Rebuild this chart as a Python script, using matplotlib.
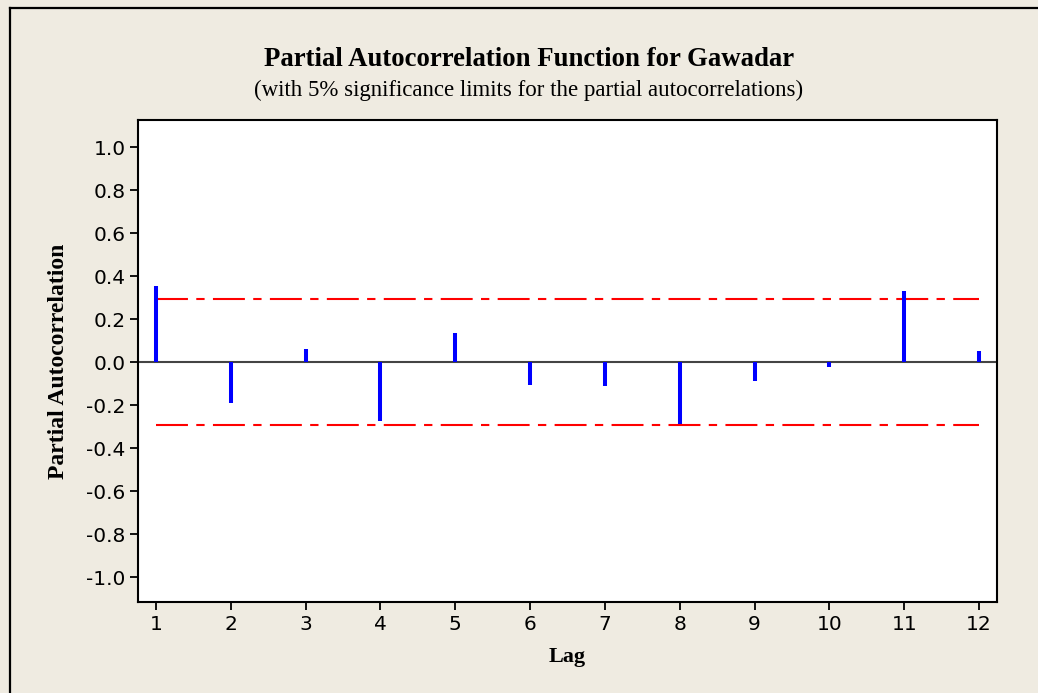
import numpy as np
import matplotlib.pyplot as plt
from matplotlib.lines import Line2D

lags = [1, 2, 3, 4, 5, 6, 7, 8, 9, 10, 11, 12]
pacf = [0.353, -0.19, 0.06, -0.274, 0.136, -0.107, -0.11, -0.29, -0.09, -0.022, 0.329, 0.053]
limit = 0.294
yticks = [-1.0, -0.8, -0.6, -0.4, -0.2, 0.0, 0.2, 0.4, 0.6, 0.8, 1.0]

plt.rcParams['lines.scale_dashes'] = False
bg = '#EFEBE1'

fig = plt.figure(figsize=(10.38, 6.93), dpi=100, facecolor=bg)
ax = fig.add_axes([138/1038, 1 - 602/693, (997 - 138)/1038, (602 - 120)/693])
ax.set_facecolor('white')

# zero line, stems, significance limits
ax.axhline(0, color='#444444', lw=1.5, zorder=1)
ax.vlines(lags, 0, pacf, colors='#0000FF', lw=2.9, zorder=3)
dash = (0, (23, 6, 6, 6))
ax.plot([lags[0], lags[-1]], [limit, limit], color='#FF0000', lw=1.5, linestyle=dash, zorder=2)
ax.plot([lags[0], lags[-1]], [-limit, -limit], color='#FF0000', lw=1.5, linestyle=dash, zorder=2)

ax.set_xlim(0.76, 12.24)
ax.set_ylim(-1.116, 1.126)
ax.set_xticks(lags)
ax.set_yticks(yticks)
ax.set_yticklabels([f'{v:.1f}' for v in yticks])
ax.tick_params(direction='out', length=6, width=1.3, labelsize=14.5, pad=3)
for s in ax.spines.values():
    s.set_linewidth(1.5)

ax.set_xlabel('Lag', family='Liberation Serif', fontweight='bold', fontsize=16, labelpad=10)
ax.set_ylabel('Partial Autocorrelation', family='Liberation Serif', fontweight='bold', fontsize=17, labelpad=12)

fig.text(0.5095, 1 - 59/693, 'Partial Autocorrelation Function for Gawadar', ha='center', va='center',
         family='Liberation Serif', fontweight='bold', fontsize=19.3)
fig.text(0.5095, 1 - 90/693, '(with 5% significance limits for the partial autocorrelations)', ha='center', va='center',
         family='Liberation Serif', fontsize=16.5)

# outer frame (top and left edges visible)
fig.add_artist(Line2D([10/1038, 10/1038], [0, 1 - 8/693], transform=fig.transFigure, color='black', lw=1.6))
fig.add_artist(Line2D([10/1038, 1], [1 - 8/693, 1 - 8/693], transform=fig.transFigure, color='black', lw=1.6))

fig.savefig('out.png', dpi=100, facecolor=bg)
